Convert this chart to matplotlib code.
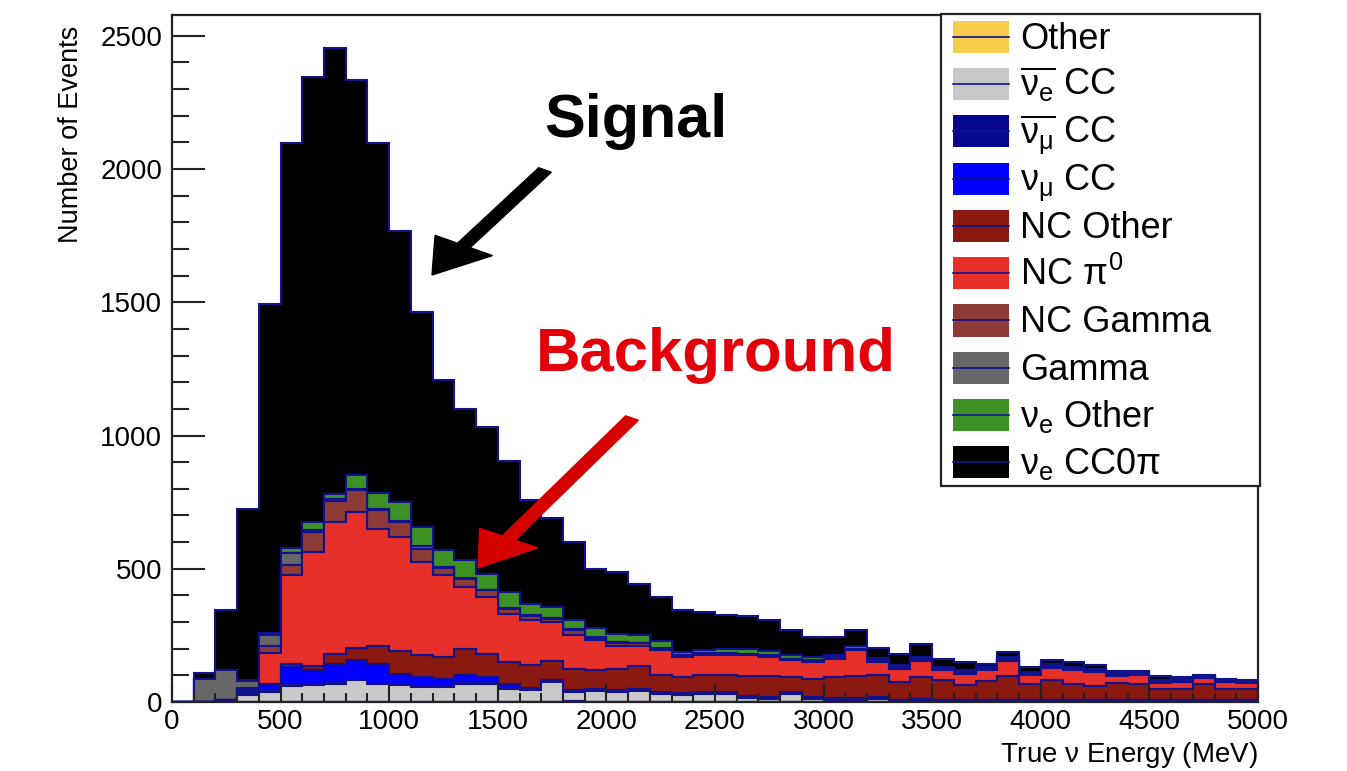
import numpy as np
import matplotlib
matplotlib.use("Agg")
from matplotlib import pyplot as plt
from matplotlib.patches import Rectangle, FancyArrow
from matplotlib.ticker import MultipleLocator

plt.rcParams['font.family'] = ['Liberation Sans', 'DejaVu Sans']
plt.rcParams['mathtext.fontset'] = 'custom'
plt.rcParams['mathtext.rm'] = 'Liberation Sans'
plt.rcParams['mathtext.it'] = 'Liberation Sans'
plt.rcParams['mathtext.bf'] = 'Liberation Sans:bold'

# 100 MeV bins from 0 to 5000
bin_edges = np.arange(0, 5001, 100)

# counts per bin, stack order bottom -> top
other = [0]*18 + [5] + [0]*31
nuebar_cc = [0, 0, 4, 25, 37, 60, 62, 69, 81, 66, 62, 56, 56, 69, 69, 50, 44, 75, 32, 41,
             37, 41, 29, 25, 29, 29, 16, 12, 29, 12, 8, 8, 12, 3, 3, 3, 3, 3, 3, 3,
             3, 3, 3, 3, 3, 3, 3, 3, 3, 3]
numubar_cc = [0, 0, 1, 2, 3, 4, 4, 3, 3, 3, 4, 3, 3, 3, 3, 4, 3, 3, 3, 3,
              3, 3, 3, 3, 3, 3, 3, 3, 3, 3, 3, 3, 3, 3, 3, 3, 3, 3, 3, 3,
              3, 3, 3, 3, 3, 3, 3, 3, 3, 3]
numu_cc = [0, 0, 4, 6, 26, 67, 55, 72, 72, 72, 40, 35, 29, 28, 22, 15, 5, 4, 5, 4,
           4, 4, 4, 4, 4, 4, 4, 4, 4, 4, 4, 4, 4, 3, 4, 3, 3, 3, 3, 3,
           3, 3, 3, 3, 3, 3, 3, 3, 3, 3]
nc_other = [0, 0, 0, 3, 3, 12, 13, 37, 48, 68, 85, 81, 81, 100, 87, 81, 85, 72, 80, 71,
            81, 86, 64, 62, 64, 64, 73, 77, 58, 68, 79, 81, 81, 66, 84, 72, 53, 70, 87, 57,
            72, 60, 50, 62, 57, 41, 41, 57, 41, 41]
nc_pi0 = [0, 0, 0, 10, 116, 332, 429, 495, 509, 442, 429, 351, 307, 230, 213, 181, 169, 146, 125, 112,
          87, 78, 94, 75, 75, 75, 79, 73, 62, 63, 68, 98, 50, 50, 60, 38, 44, 42, 58, 34,
          48, 50, 53, 25, 34, 21, 25, 25, 25, 21]
nc_gamma = [0, 0, 0, 6, 24, 38, 75, 79, 82, 69, 56, 50, 28, 30, 25, 19, 16, 10, 20, 9,
            10, 8, 6, 4, 4, 4, 3, 3, 3, 3, 3, 3, 3, 3, 3, 3, 3, 3, 3, 3,
            3, 3, 3, 3, 3, 3, 3, 2, 3, 3]
gamma = [0, 85, 110, 28, 41, 46, 7, 5, 5, 6, 4, 9, 3, 5, 3, 4, 6, 4, 3, 3,
         3, 3, 3, 3, 3, 3, 3, 3, 3, 3, 3, 3, 3, 3, 3, 3, 3, 3, 3, 3,
         3, 3, 3, 3, 3, 3, 3, 2, 2, 2]
nue_other = [0, 0, 0, 2, 8, 18, 31, 22, 51, 58, 71, 72, 62, 67, 60, 58, 41, 42, 33, 36,
             31, 27, 26, 11, 12, 18, 19, 15, 13, 14, 7, 12, 9, 9, 10, 8, 8, 6, 8, 7,
             8, 8, 7, 6, 4, 7, 5, 3, 3, 4]
nue_cc0pi = [0, 25, 225, 641, 1235, 1519, 1670, 1673, 1483, 1312, 1017, 806, 639, 569, 550, 493, 388, 334, 294, 221,
             231, 194, 165, 157, 143, 125, 121, 116, 94, 74, 69, 59, 39, 41, 46, 29, 30, 8, 19, 18,
             13, 17, 12, 8, 6, 12, 8, 4, 4, 4]

labels = ['Other', r'$\overline{\nu_{e}}$ CC', r'$\overline{\nu_{\mu}}$ CC', r'$\nu_{\mu}$ CC',
          'NC Other', r'NC $\pi^{0}$', 'NC Gamma', 'Gamma', r'$\nu_{e}$ Other', r'$\nu_{e}$ CC0$\pi$']
colors = ['#F8CD4B', '#C8C8C8', '#06068E', '#0000FF', '#8A1912',
          '#E8302A', '#8E3A36', '#676767', '#3E9125', '#000000']
series = [other, nuebar_cc, numubar_cc, numu_cc, nc_other, nc_pi0, nc_gamma, gamma, nue_other, nue_cc0pi]
edge = '#12128C'

W, H = 1347, 771
fig = plt.figure(figsize=(W/100, H/100), dpi=100)

def fx(x):
    return x / W

def fy(y):
    return 1 - y / H

ax = fig.add_axes([fx(172), fy(702), fx(1258) - fx(172), fy(15) - fy(702)])

centers = (bin_edges[:-1] + bin_edges[1:]) / 2
ax.hist([centers]*len(series), bins=bin_edges, weights=series, stacked=True,
        histtype='stepfilled', color=colors, edgecolor=edge, linewidth=1.5)

ax.set_xlim(0, 5000)
ax.set_ylim(0, 2578)
ax.xaxis.set_major_locator(MultipleLocator(500))
ax.xaxis.set_minor_locator(MultipleLocator(100))
ax.yaxis.set_major_locator(MultipleLocator(500))
ax.yaxis.set_minor_locator(MultipleLocator(100))
ax.tick_params(axis='both', which='both', direction='in', width=1.5, colors='#222222',
               labelcolor='black', labelsize=20)
ax.tick_params(axis='y', which='major', length=24, pad=7)
ax.tick_params(axis='y', which='minor', length=12)
ax.tick_params(axis='x', which='major', length=13, pad=5)
ax.tick_params(axis='x', which='minor', length=6.5)
for s in ax.spines.values():
    s.set_linewidth(1.6)
    s.set_color('#222222')

ax.set_xlabel(r'True $\nu$ Energy (MeV)', fontsize=20, loc='right', labelpad=4)
ax.set_ylabel('Number of Events', fontsize=19.5, loc='top', labelpad=12)
ax.yaxis.label.set_position((0, 0.985))

# legend box, drawn like the ROOT TLegend
lx0, ly0, lx1, ly1 = 941, 14, 1260, 486
fig.patches.append(Rectangle((fx(lx0), fy(ly1)), fx(lx1) - fx(lx0), fy(ly0) - fy(ly1),
                             transform=fig.transFigure, facecolor='white', edgecolor='#222222',
                             linewidth=1.6, zorder=5))
row0, dy = 36.7, 47.3
for i, (lab, col) in enumerate(zip(labels, colors)):
    yc = row0 + i * dy
    fig.patches.append(Rectangle((fx(953), fy(yc + 16)), fx(1009) - fx(953), fy(yc - 16) - fy(yc + 16),
                                 transform=fig.transFigure, facecolor=col, edgecolor='none', zorder=6))
    fig.lines.append(plt.Line2D([fx(953), fx(1009)], [fy(yc), fy(yc)], transform=fig.transFigure,
                                color=edge, linewidth=1.2, zorder=7))
    fig.text(fx(1020), fy(yc + 12), lab, fontsize=26, va='baseline', ha='left', zorder=8)

# annotations
fig.text(fx(636), fy(122), 'Signal', fontsize=44, fontweight='bold', color='black',
         ha='center', va='center')
fig.text(fx(716), fy(356), 'Background', fontsize=44.5, fontweight='bold', color='#E3000B',
         ha='center', va='center')
for (x0, y0, x1, y1, c) in [(545, 170, 432, 275, 'black'), (632, 418, 478, 568, '#D40000')]:
    fig.patches.append(FancyArrow(fx(x0), fy(y0), fx(x1) - fx(x0), fy(y1) - fy(y0),
                                  width=0.011, head_width=0.05, head_length=0.045,
                                  length_includes_head=True, transform=fig.transFigure,
                                  color=c, zorder=9))

fig.savefig('out.png', dpi=100)
